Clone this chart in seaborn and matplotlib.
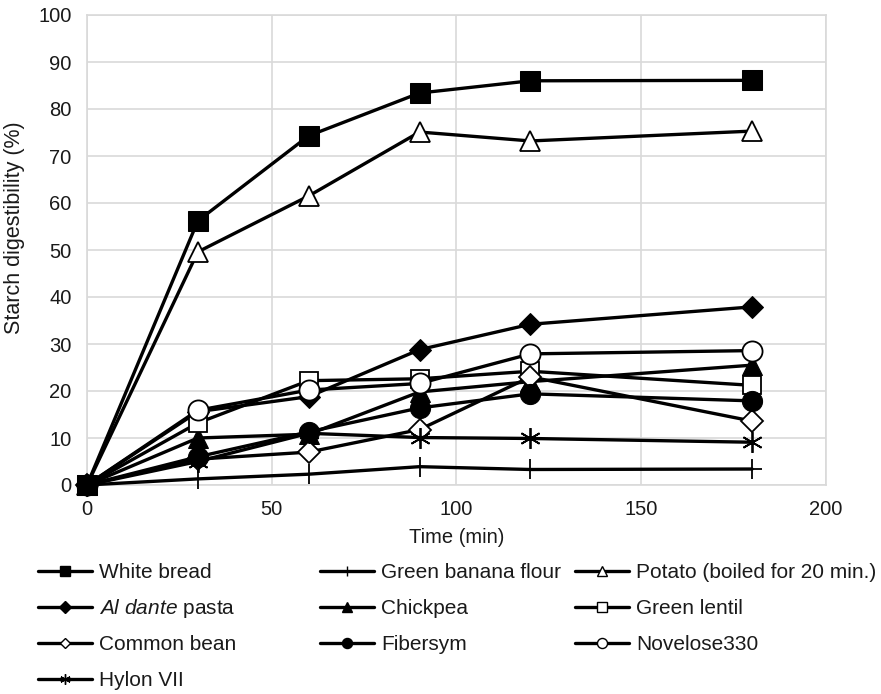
import matplotlib
matplotlib.use("Agg")
import matplotlib.pyplot as plt
import seaborn as sns
import pandas as pd
from matplotlib.lines import Line2D

sns.set_theme(style="whitegrid")
plt.rcParams['font.family'] = ['Liberation Sans', 'DejaVu Sans']
plt.rcParams['mathtext.fontset'] = 'custom'
plt.rcParams['mathtext.it'] = 'Liberation Sans:italic'
plt.rcParams['mathtext.rm'] = 'Liberation Sans'

time_min = [0, 30, 60, 90, 120, 180]

white_bread = [0, 56.2, 74.3, 83.4, 86.0, 86.1]
green_banana_flour = [0, 1.3, 2.3, 3.9, 3.3, 3.4]
potato = [0, 49.6, 61.5, 75.1, 73.2, 75.3]
al_dante_pasta = [0, 15.6, 18.8, 28.8, 34.2, 37.9]
chickpea = [0, 10.0, 10.8, 19.8, 22.0, 25.5]
green_lentil = [0, 13.2, 22.2, 22.6, 24.2, 21.2]
common_bean = [0, 5.5, 7.0, 11.8, 23.0, 13.6]
fibersym = [0, 6.0, 11.3, 16.4, 19.4, 17.9]
novelose330 = [0, 15.9, 20.2, 21.6, 27.9, 28.6]
hylon_vii = [0, 5.0, 11.0, 10.1, 9.9, 9.1]

series = [
    ("White bread", white_bread, dict(marker="s", ms=15, mfc="black")),
    ("Green banana flour", green_banana_flour, dict(marker="+", ms=15, mew=1.3)),
    ("Potato (boiled for 20 min.)", potato, dict(marker="^", ms=15, mfc="white", mew=1.3)),
    (r"$\it{Al\ dante}$ pasta", al_dante_pasta, dict(marker="D", ms=11.5, mfc="black")),
    ("Chickpea", chickpea, dict(marker="^", ms=15, mfc="black")),
    ("Green lentil", green_lentil, dict(marker="s", ms=13.5, mfc="white", mew=1.3)),
    ("Common bean", common_bean, dict(marker="D", ms=11, mfc="white", mew=1.3)),
    ("Fibersym", fibersym, dict(marker="o", ms=14.5, mfc="black")),
    ("Novelose330", novelose330, dict(marker="o", ms=14.5, mfc="white", mew=1.3)),
    ("Hylon VII", hylon_vii, dict(marker=(6, 2, 0), ms=15, mew=1.3)),
]

fig = plt.figure(figsize=(8.81, 6.94), dpi=100)
ax = fig.add_axes([87/881, 1-485/694, (826-87)/881, (485-15)/694])

handles = {}
for i, (name, vals, st) in enumerate(series):
    df = pd.DataFrame({"t": time_min, "v": vals})
    z = 5 if i == 0 else 3
    sns.lineplot(data=df, x="t", y="v", ax=ax, color="black", lw=2.4,
                 mec="black", legend=False, clip_on=False, zorder=z, **st)
    handles[name] = Line2D([], [], color="black", lw=2.4, marker=st["marker"],
                           ms=st["ms"]*0.5, mfc=st.get("mfc", "black"),
                           mec="black", mew=1.0)

ax.set_xlim(0, 200)
ax.set_ylim(0, 100)
ax.set_xticks(range(0, 201, 50))
ax.set_yticks(range(0, 101, 10))
ax.grid(True, color="#d9d9d9", lw=1.2)
for s in ax.spines.values():
    s.set_color("#d9d9d9")
    s.set_linewidth(1.2)
ax.tick_params(axis="both", labelsize=14.5, colors="#1a1a1a", length=0, pad=11)
ax.set_xlabel("Time (min)", fontsize=14.5, labelpad=6, color="#1a1a1a")
ax.set_ylabel("Starch digestibility (%)", fontsize=15.5, color="#1a1a1a")
ax.yaxis.set_label_coords((25-87)/739, (485-228)/470)
ax.set_axisbelow(True)

# legend: row-major order, 3 columns, one small legend per entry
col_x = [38, 320, 575]
row_y = [573, 609, 645, 681]
for k, (name, vals, st) in enumerate(series):
    r, c = divmod(k, 3)
    leg = fig.legend([handles[name]], [name], loc="center left",
                     bbox_to_anchor=(col_x[c]/881, 1-row_y[r]/694), frameon=False,
                     fontsize=15, handlelength=2.6, handletextpad=0.35,
                     borderaxespad=0, borderpad=0)
    for t in leg.get_texts():
        t.set_color("#1a1a1a")

fig.savefig("out.png", dpi=100)
